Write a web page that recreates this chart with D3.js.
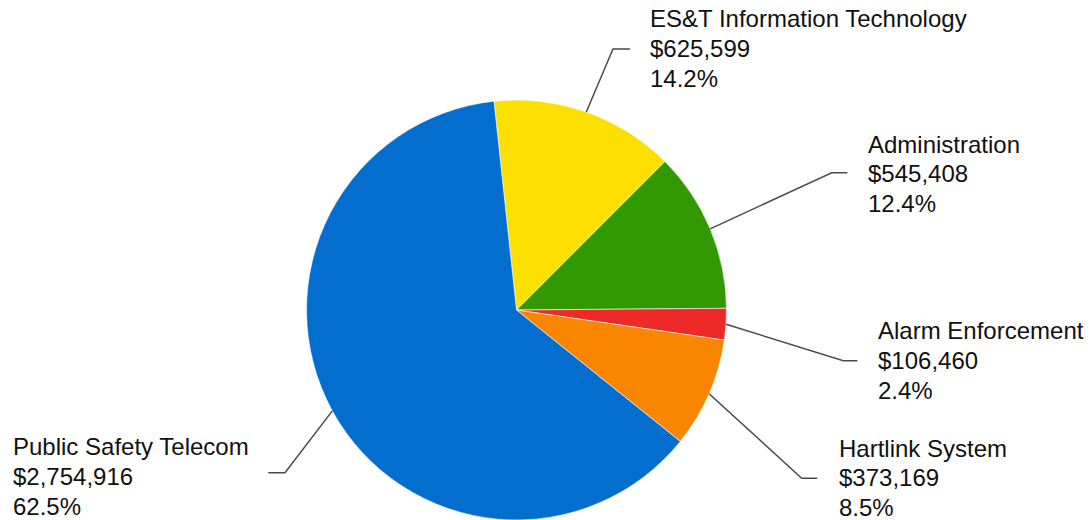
<!DOCTYPE html>
<html>
<head>
<meta charset="utf-8">
<script src="https://cdn.jsdelivr.net/npm/d3@7"></script>
<style>
  html, body { margin: 0; padding: 0; background: #ffffff; }
  svg { display: block; }
  text { font-family: "Liberation Sans", Arial, sans-serif; }
</style>
</head>
<body>
<svg id="chart" width="1091" height="520"></svg>
<script>
// ---- data ----
const categories = ["ES&T Information Technology", "Administration", "Alarm Enforcement", "Hartlink System", "Public Safety Telecom"];
const values = [625599, 545408, 106460, 373169, 2754916];
const colors = ["#fbdf00", "#329a00", "#ee2a28", "#f98500", "#046ecf"];

// ---- layout (label placement: text left x, first baseline y, elbow point, line end x) ----
const labelLayout = [
  { tx: 650,   ty: 27,    ex: 613,   ey: 49,    hx: 630   },
  { tx: 868,   ty: 152.5, ex: 831.7, ey: 172.7, hx: 847.3 },
  { tx: 878,   ty: 339,   ex: 843.3, ey: 360.7, hx: 857.3 },
  { tx: 839,   ty: 456.5, ex: 801.7, ey: 478.3, hx: 817.3 },
  { tx: 13,    ty: 455,   ex: 285,   ey: 472.7, hx: 268.3 }
];

const width = 1091, height = 520;
const cx = 516.5, cy = 310, radius = 210;
const startDeg = -6.15;

const svg = d3.select("#chart");
const total = d3.sum(values);
const data = categories.map((c, i) => ({ name: c, value: values[i], color: colors[i], layout: labelLayout[i] }));

const pie = d3.pie()
  .value(d => d.value)
  .sort(null)
  .startAngle(startDeg * Math.PI / 180)
  .endAngle((startDeg + 360) * Math.PI / 180);

const arcs = pie(data);
const arc = d3.arc().innerRadius(0).outerRadius(radius);

const g = svg.append("g").attr("transform", `translate(${cx},${cy})`);

g.selectAll("path.slice")
  .data(arcs)
  .join("path")
  .attr("class", "slice")
  .attr("d", arc)
  .attr("fill", d => d.data.color)
  .attr("stroke", "#ffffff")
  .attr("stroke-width", 0.6);

const fmtMoney = v => "$" + d3.format(",")(v);
const fmtPct = v => d3.format(".1f")(v / total * 100) + "%";

arcs.forEach(a => {
  const mid = (a.startAngle + a.endAngle) / 2;
  const sx = cx + radius * Math.sin(mid);
  const sy = cy - radius * Math.cos(mid);
  const L = a.data.layout;
  svg.append("polyline")
    .attr("points", `${sx},${sy} ${L.ex},${L.ey} ${L.hx},${L.ey}`)
    .attr("fill", "none")
    .attr("stroke", "#4a4a4a")
    .attr("stroke-width", 1.5);

  const t = svg.append("text")
    .attr("x", L.tx)
    .attr("y", L.ty)
    .attr("font-size", "24px")
    .attr("fill", "#111111");
  const lines = [a.data.name, fmtMoney(a.data.value), fmtPct(a.data.value)];
  lines.forEach((ln, i) => {
    t.append("tspan")
      .attr("x", L.tx)
      .attr("y", L.ty + i * 29.8)
      .text(ln);
  });
});
</script>
</body>
</html>
